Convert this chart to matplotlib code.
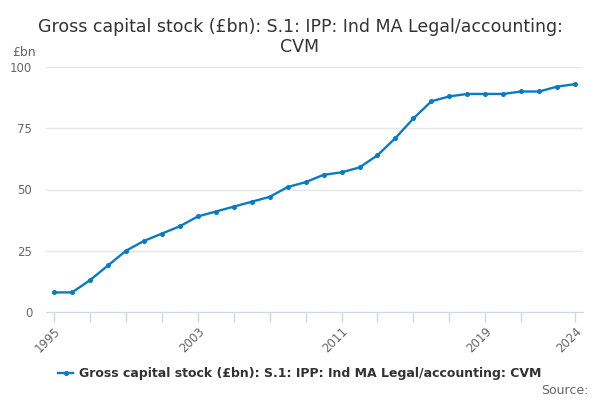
import matplotlib
matplotlib.use('Agg')
import matplotlib.pyplot as plt

# values
years = list(range(1995, 2025))
values = [8, 8, 13, 19, 25, 29, 32, 35, 39, 41, 43, 45, 47, 51, 53, 56, 57, 59,
          64, 71, 79, 86, 88, 89, 89, 89, 90, 90, 92, 93]
tick_years = list(range(1995, 2022, 2)) + [2024]
label_years = [1995, 2003, 2011, 2019, 2024]
y_ticks = [0, 25, 50, 75, 100]

title = 'Gross capital stock (£bn): S.1: IPP: Ind MA Legal/accounting:\nCVM'
series_name = 'Gross capital stock (£bn): S.1: IPP: Ind MA Legal/accounting: CVM'
line_color = '#0b7bc1'

plt.rcParams["font.family"] = "DejaVu Sans"
fig = plt.figure(figsize=(6, 4), dpi=100)
ax = fig.add_axes([0.0767, 0.22, 0.8953, 0.6125])

ax.plot(years, values, color=line_color, linewidth=1.7, marker='o', markersize=2.6,
        label=series_name)

ax.set_xlim(1994.55, 2024.45)
ax.set_ylim(0, 100)
ax.set_yticks(y_ticks)
ax.set_yticklabels([str(v) for v in y_ticks], fontsize=8.5, color='#666666')
ax.set_xticks(tick_years)
ax.set_xticklabels([str(y) if y in label_years else '' for y in tick_years],
                   rotation=45, ha='right', rotation_mode='anchor',
                   fontsize=8.5, color='#666666')
ax.tick_params(axis='y', length=0, pad=10)
ax.tick_params(axis='x', length=7, width=1, color='#ccd6eb', pad=2)
ax.grid(axis='y', color='#e6e6e6', linewidth=1)
ax.set_axisbelow(True)
for side in ['top', 'right', 'left']:
    ax.spines[side].set_visible(False)
ax.spines['bottom'].set_color('#ccd6eb')

fig.text(0.5, 0.955, title, ha='center', va='top', fontsize=12.5, color='#333333',
         linespacing=1.15)
fig.text(0.02, 0.87, '£bn', fontsize=9, color='#666666', va='center')

leg = fig.legend(loc='center', bbox_to_anchor=(0.5, 0.065), frameon=False,
                 prop={'size': 9, 'weight': 'bold'}, handlelength=1.2,
                 handletextpad=0.5, labelcolor='#333333')
fig.text(0.98, 0.025, 'Source:', ha='right', va='center', fontsize=9, color='#666666')

fig.savefig('out.png', dpi=100)
